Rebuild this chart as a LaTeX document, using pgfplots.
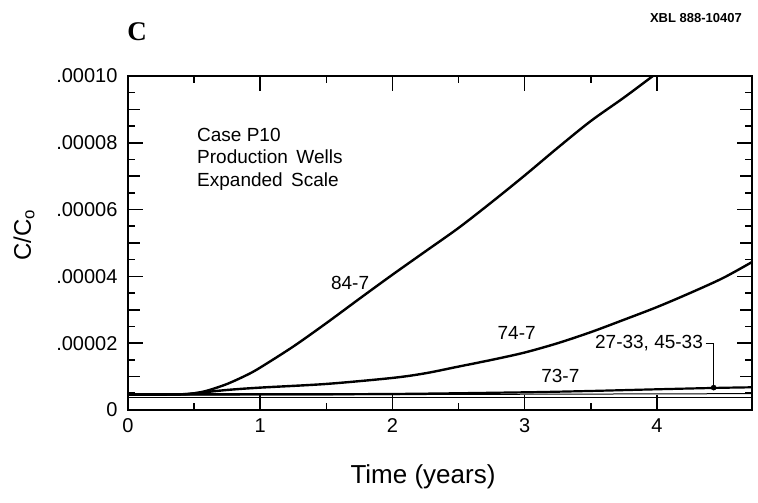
\documentclass[border=0pt]{standalone}
\usepackage{pgfplots}
\pgfplotsset{compat=1.18}
\usepackage{fontspec}
\setmainfont{Liberation Sans}
\newfontfamily\serifbf{Liberation Serif}

\pgfplotstableread{
x y
0 0.47
0.2 0.46
0.4 0.47
0.5 0.5
0.6 0.58
0.75 0.78
0.9 1.05
1.0 1.27
1.25 1.9
1.5 2.6
1.75 3.33
2.0 4.05
2.25 4.75
2.5 5.45
2.75 6.22
3.0 7.02
3.25 7.85
3.5 8.65
3.75 9.35
3.97 10
}\curveA

\pgfplotstableread{
x y
0 0.47
0.4 0.47
0.5 0.5
0.75 0.6
1.0 0.67
1.5 0.78
2.0 0.96
2.25 1.1
2.5 1.3
2.75 1.5
3.0 1.72
3.25 2.0
3.5 2.33
3.75 2.7
4.0 3.08
4.25 3.5
4.5 3.95
4.72 4.43
}\curveB

\pgfplotstableread{
x y
0 0.47
1 0.47
2 0.48
3 0.53
3.5 0.57
4 0.62
4.43 0.66
4.72 0.68
}\curveC

\begin{document}
\begin{tikzpicture}[x=1bp,y=1bp]
\path[use as bounding box] (0,0) rectangle (758,503);
\begin{axis}[
 at={(128bp,93bp)}, anchor=south west, scale only axis,
 width=624bp, height=334bp,
 xmin=0, xmax=4.72, ymin=0, ymax=10,
 xtick={0,1,2,3,4}, xticklabels={0,1,2,3,4},
 minor x tick num=1,
 ytick={0,2,4,6,8,10}, yticklabels={0,.00002,.00004,.00006,.00008,.00010},
 minor y tick num=3,
 extra y ticks={1,3,5,7,9}, extra y tick labels={},
 extra y tick style={major tick length=12bp},
 tick align=inside, major tick length=15bp, minor tick length=7bp,
 tick style={line width=1.6bp, black},
 axis line style={line width=2.2bp},
 ticklabel style={font=\fontsize{20bp}{23bp}\selectfont},
 /pgf/number format/assume math mode=true,
 xticklabel style={yshift=-5bp},
 yticklabel style={xshift=-7bp},
 clip=false,
]
\addplot[black, line width=2.4bp, smooth] table {\curveA};
\addplot[black, line width=2.4bp, smooth] table {\curveB};
\addplot[black, line width=2.2bp, smooth] table {\curveC};
\addplot[black, line width=1bp] coordinates {(0,0.44) (4.72,0.49)};
\addplot[black, line width=1bp] coordinates {(0,0.36) (4.72,0.36)};
\addplot[black, only marks, mark=*, mark size=2.6bp] coordinates {(4.43,0.67)};
\draw[line width=1bp] (axis cs:4.37,1.98) -- (axis cs:4.43,1.98) -- (axis cs:4.43,0.67);
\begin{scope}[every node/.style={font=\fontsize{19bp}{22bp}\selectfont, inner sep=0pt}]
\node at (axis cs:1.68,3.80) {84-7};
\node at (axis cs:2.94,2.30) {74-7};
\node[anchor=east] at (axis cs:4.35,2.01) {27-33, 45-33};
\node at (axis cs:3.27,1.02) {73-7};
\end{scope}
\end{axis}
\begin{scope}[every node/.style={inner sep=0pt}]
\node[anchor=base west, font=\fontsize{19bp}{22bp}\selectfont] at (197,361) {Case P10};
\node[anchor=base west, font=\fontsize{19bp}{22bp}\selectfont] at (197,339) {Production\, Wells};
\node[anchor=base west, font=\fontsize{19bp}{22bp}\selectfont] at (197,316) {Expanded\, Scale};
\node[font=\serifbf\bfseries\fontsize{27bp}{30bp}\selectfont] at (137,471) {C};
\node[anchor=east, font=\bfseries\fontsize{13bp}{15bp}\selectfont] at (742,485) {XBL 888-10407};
\node[rotate=90, font=\fontsize{24bp}{28bp}\selectfont] at (24,268) {C/C\textsubscript{o}};
\node[font=\fontsize{26bp}{30bp}\selectfont] at (423,26) {Time (years)};
\end{scope}
\end{tikzpicture}
\end{document}
